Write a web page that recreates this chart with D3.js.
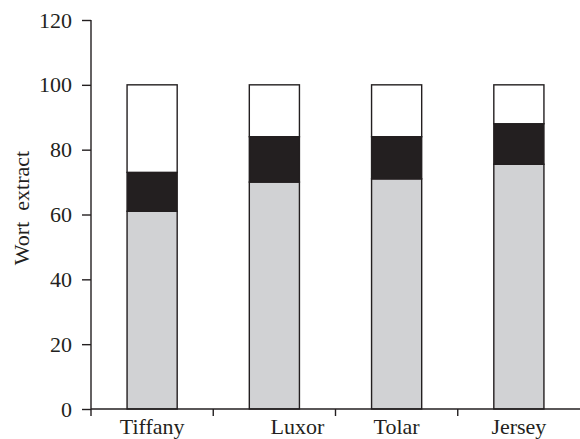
<!DOCTYPE html>
<html>
<head>
<meta charset="utf-8">
<script src="https://cdn.jsdelivr.net/npm/d3@7"></script>
<style>
  html, body { margin: 0; padding: 0; background: #fff; }
  svg { display: block; }
  text { font-family: "Liberation Serif", "DejaVu Serif", serif; fill: #231f20; }
</style>
</head>
<body>
<svg id="chart" width="580" height="439"></svg>
<script>
// Wort extract by barley variety, split into three stacked fractions
const categories = ["Tiffany", "Luxor", "Tolar", "Jersey"];
const lowerPart  = [61, 70, 71, 75.5];   // grey
const middlePart = [12, 14, 13, 12.5];   // black
const upperPart  = [27, 16, 16, 12];     // white, up to 100
const yTicks = [0, 20, 40, 60, 80, 100, 120];
const yLabel = "Wort  extract";

const seriesKeys = ["lower", "middle", "upper"];
const fills = { lower: "#d1d2d4", middle: "#231f20", upper: "#ffffff" };
const ink = "#231f20";
const fontSize = "22px";

const rows = categories.map((c, i) => ({
  category: c, lower: lowerPart[i], middle: middlePart[i], upper: upperPart[i]
}));

const svg = d3.select("#chart");
const plotLeft = 91, plotRight = 580, plotTop = 20, plotBottom = 409;

const x = d3.scaleBand().domain(categories).range([plotLeft, plotRight])
  .paddingInner(0.59).paddingOuter(0.295);
const y = d3.scaleLinear().domain([0, 120]).range([plotBottom, plotTop]);

const stacked = d3.stack().keys(seriesKeys)(rows);

// bars
svg.append("g").selectAll("g")
  .data(stacked).join("g")
  .attr("fill", d => fills[d.key])
  .selectAll("rect")
  .data(d => d).join("rect")
  .attr("x", d => x(d.data.category))
  .attr("width", x.bandwidth())
  .attr("y", d => y(d[1]))
  .attr("height", d => y(d[0]) - y(d[1]))
  .attr("stroke", ink)
  .attr("stroke-width", 1.4);

// y axis
const yAxis = svg.append("g")
  .attr("transform", `translate(${plotLeft},0)`)
  .call(d3.axisLeft(y).tickValues(yTicks).tickSize(9).tickSizeOuter(0).tickPadding(10));
yAxis.select(".domain").remove();
yAxis.append("line")
  .attr("x1", 0).attr("x2", 0)
  .attr("y1", y(120)).attr("y2", plotBottom + 7)
  .attr("stroke", ink).attr("stroke-width", 1.4);
yAxis.selectAll(".tick line").attr("stroke", ink).attr("stroke-width", 1.4);
yAxis.selectAll(".tick text").style("font-size", fontSize).attr("fill", ink)
  .style("font-family", "'Liberation Serif', 'DejaVu Serif', serif");

// x axis: line with separator ticks between categories
const boundaries = categories.map(c => x(c) + x.bandwidth() / 2 - x.step() / 2);
const xAxis = svg.append("g");
xAxis.append("line")
  .attr("x1", plotLeft).attr("x2", plotRight)
  .attr("y1", plotBottom).attr("y2", plotBottom)
  .attr("stroke", ink).attr("stroke-width", 1.4);
xAxis.selectAll("line.sep")
  .data(boundaries.slice(1)).join("line")
  .attr("class", "sep")
  .attr("x1", d => d).attr("x2", d => d)
  .attr("y1", plotBottom).attr("y2", plotBottom + 7)
  .attr("stroke", ink).attr("stroke-width", 1.4);
// the Luxor label sits a little right of its bar
const labelShift = { Luxor: 23 };
xAxis.selectAll("text")
  .data(categories).join("text")
  .attr("x", d => x(d) + x.bandwidth() / 2 + (labelShift[d] || 0))
  .attr("y", 434)
  .attr("text-anchor", "middle")
  .style("font-size", fontSize)
  .text(d => d);

// y axis title
svg.append("text")
  .attr("transform", "translate(29,208) rotate(-90)")
  .attr("text-anchor", "middle")
  .style("font-size", fontSize)
  .style("white-space", "pre")
  .text(yLabel);
</script>
</body>
</html>
